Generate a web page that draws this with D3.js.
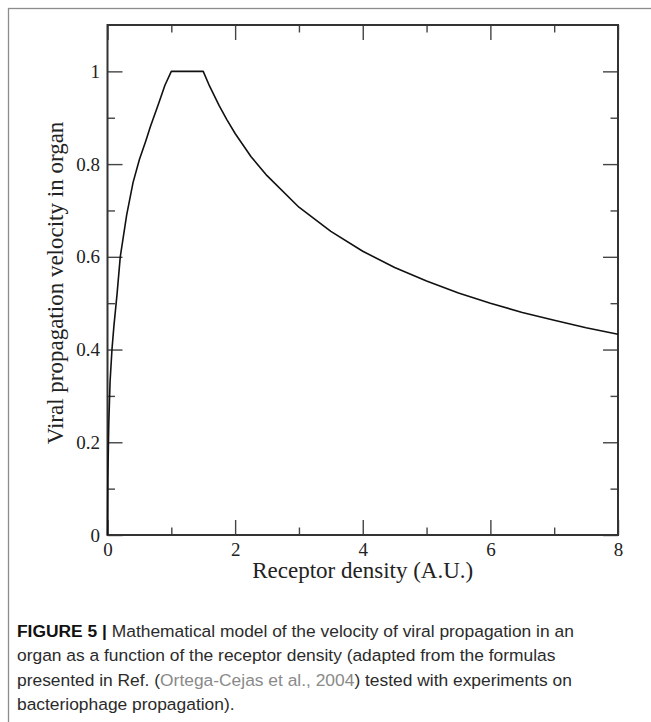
<!DOCTYPE html>
<html lang="en">
<head>
<meta charset="UTF-8">
<title>Figure 5</title>
<script src="https://cdn.jsdelivr.net/npm/d3@7"></script>
<style>
    body { margin: 0; background: #fff; }
    .tick text { font-family: "Liberation Serif", "Times New Roman", serif; font-size: 19px; fill: #222; }
    .axis-title { font-family: "Liberation Serif", "Times New Roman", serif; font-size: 23px; fill: #222; }
    .caption { font-family: "Liberation Sans", Arial, sans-serif; font-size: 17.4px; fill: #2b2b2b; }
</style>
</head>
<body>
<div id="chart"></div>
<script>

    // values
    const density = [0, 0.005, 0.02, 0.04, 0.07, 0.1, 0.15, 0.2, 0.3, 0.4, 0.5, 0.6, 0.67, 0.8, 0.9, 1.0,
        1.5, 1.6, 1.75, 1.87, 2, 2.25, 2.5, 3, 3.5, 4, 4.5, 5, 5.5, 6, 6.5, 7, 7.5, 8];
    const velocity = [0, 0.12, 0.24, 0.33, 0.4, 0.45, 0.52, 0.6, 0.69, 0.76, 0.81, 0.85, 0.88, 0.93, 0.97, 1.0,
        1.0, 0.968, 0.926, 0.896, 0.866, 0.816, 0.775, 0.707, 0.655, 0.612, 0.577, 0.548, 0.522, 0.5, 0.48, 0.463, 0.447, 0.433];

    const xMajor = [0, 2, 4, 6, 8];
    const xMinor = [1, 3, 5, 7];
    const yMajor = [0, 0.2, 0.4, 0.6, 0.8, 1];
    const yMinor = [0.1, 0.3, 0.5, 0.7, 0.9];
    const yLabels = ["0", "0.2", "0.4", "0.6", "0.8", "1"];

    const captionLines = [
        [{t: "FIGURE 5 | ", w: "bold", c: "#111"}, {t: "Mathematical model of the velocity of viral propagation in an"}],
        [{t: "organ as a function of the receptor density (adapted from the formulas"}],
        [{t: "presented in Ref. ("}, {t: "Ortega-Cejas et al., 2004", c: "#8a8a8a"}, {t: ") tested with experiments on"}],
        [{t: "bacteriophage propagation)."}]
    ];

    const W = 651, H = 722;
    const margin = {top: 25, right: 33, bottom: 187, left: 107.5};
    const width = W - margin.left - margin.right,
        height = H - margin.top - margin.bottom;

    const svg = d3.select("#chart")
        .append("svg")
        .attr("width", W)
        .attr("height", H);

    // outer frame of the figure
    svg.append("rect")
        .attr("x", 8.5)
        .attr("y", 8.5)
        .attr("width", 700)
        .attr("height", 800)
        .attr("fill", "none")
        .attr("stroke", "#8c8c8c")
        .attr("stroke-width", 1.3);

    const g = svg.append("g")
        .attr("transform", "translate(" + margin.left + "," + margin.top + ")");

    const x = d3.scaleLinear().domain([0, 8]).range([0, width]);
    const y = d3.scaleLinear().domain([0, 1.1]).range([height, 0]);

    function styleAxis(sel) {
        sel.select(".domain").remove();
        sel.selectAll(".tick line").attr("stroke", "#444").attr("stroke-width", 1.4);
    }

    // bottom
    g.append("g")
        .attr("transform", "translate(0," + height + ")")
        .call(d3.axisBottom(x).tickValues(xMajor).tickSize(-15).tickFormat(d3.format("d")))
        .call(styleAxis)
        .selectAll("text").attr("dy", null).attr("y", 21);
    g.append("g")
        .attr("transform", "translate(0," + height + ")")
        .call(d3.axisBottom(x).tickValues(xMinor).tickSize(-7.5).tickFormat(""))
        .call(styleAxis);
    // top
    g.append("g")
        .call(d3.axisTop(x).tickValues(xMajor).tickSize(-15).tickFormat(""))
        .call(styleAxis);
    g.append("g")
        .call(d3.axisTop(x).tickValues(xMinor).tickSize(-7.5).tickFormat(""))
        .call(styleAxis);
    // left
    g.append("g")
        .call(d3.axisLeft(y).tickValues(yMajor).tickSize(-15)
            .tickFormat((d, i) => yLabels[i]))
        .call(styleAxis)
        .selectAll("text").attr("x", -7.5);
    g.append("g")
        .call(d3.axisLeft(y).tickValues(yMinor).tickSize(-7.5).tickFormat(""))
        .call(styleAxis);
    // right
    g.append("g")
        .attr("transform", "translate(" + width + ",0)")
        .call(d3.axisRight(y).tickValues(yMajor).tickSize(-15).tickFormat(""))
        .call(styleAxis);
    g.append("g")
        .attr("transform", "translate(" + width + ",0)")
        .call(d3.axisRight(y).tickValues(yMinor).tickSize(-7.5).tickFormat(""))
        .call(styleAxis);

    // plot box
    g.append("rect")
        .attr("width", width)
        .attr("height", height)
        .attr("fill", "none")
        .attr("stroke", "#333")
        .attr("stroke-width", 2);

    // curve
    const pts = density.map((d, i) => [d, velocity[i]]);
    g.append("path")
        .datum(pts)
        .attr("fill", "none")
        .attr("stroke", "#111")
        .attr("stroke-width", 1.6)
        .attr("stroke-linejoin", "round")
        .attr("d", d3.line().x(d => x(d[0])).y(d => y(d[1])));

    // axis titles
    g.append("text")
        .attr("class", "axis-title")
        .attr("x", width / 2)
        .attr("y", height + 43)
        .attr("text-anchor", "middle")
        .text("Receptor density (A.U.)");

    g.append("text")
        .attr("class", "axis-title")
        .attr("transform", "translate(" + (63 - margin.left) + "," + (283 - margin.top) + ") rotate(-90)")
        .attr("text-anchor", "middle")
        .text("Viral propagation velocity in organ");

    // caption
    const baselines = [637, 661, 686, 710];
    captionLines.forEach((line, i) => {
        const t = svg.append("text")
            .attr("class", "caption")
            .attr("x", 17)
            .attr("y", baselines[i]);
        line.forEach(part => {
            t.append("tspan")
                .attr("font-weight", part.w || null)
                .attr("fill", part.c || null)
                .text(part.t);
        });
    });

</script>
</body>
</html>
